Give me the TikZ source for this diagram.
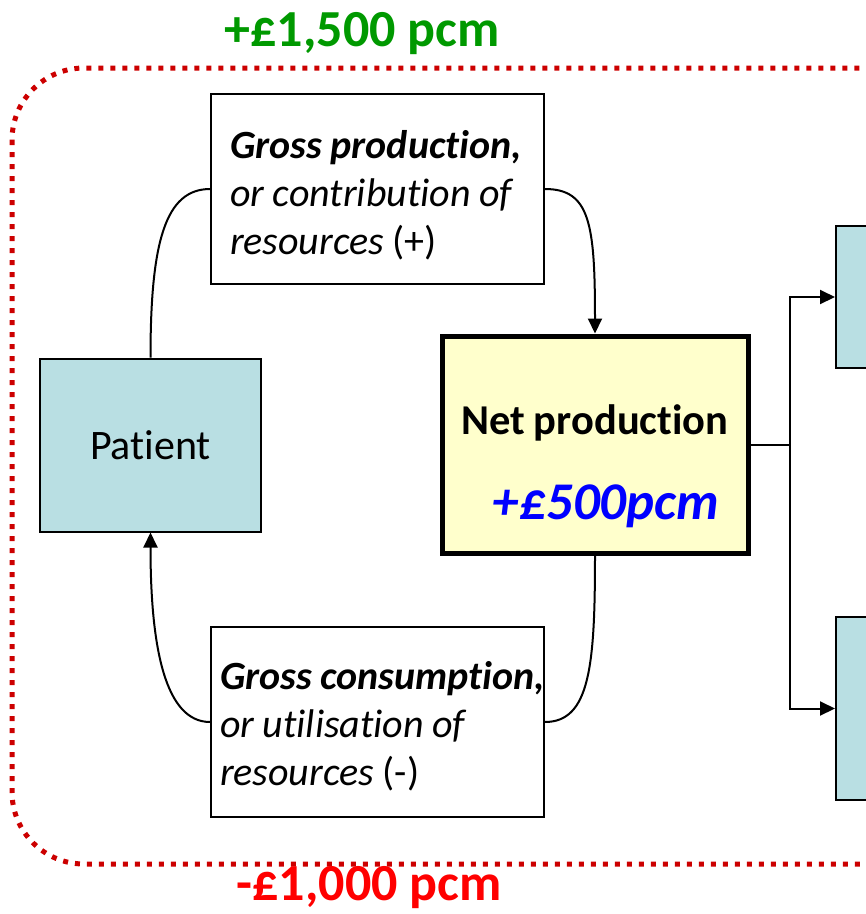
\documentclass[tikz,border=0pt]{standalone}
\usepackage{fontspec}
\setmainfont{Carlito}[Ligatures={NoCommon}]
\usetikzlibrary{arrows.meta}
\definecolor{boxblue}{RGB}{185,223,227}
\definecolor{boxyellow}{RGB}{255,255,204}
\definecolor{dotred}{RGB}{204,0,0}
\definecolor{txtgreen}{RGB}{0,153,0}
\definecolor{txtred}{RGB}{255,0,0}
\definecolor{txtblue}{RGB}{0,0,255}
\newcommand{\tightsp}{\spaceskip=8.5pt\relax}
\tikzset{
  bluebox/.style={draw=black, line width=2pt, fill=boxblue, inner sep=0pt},
  whitebox/.style={draw=black, line width=1.8pt, fill=white, align=left,
    minimum width=333pt, minimum height=190pt, inner ysep=0pt},
  netbox/.style={draw=black, line width=5pt, fill=boxyellow, inner sep=0pt,
    minimum width=306pt, minimum height=217pt},
  conn/.style={line width=2pt, draw=black},
  arr/.style={conn, -{Triangle[length=15pt,width=14pt]}},
  bigtxt/.style={font=\fontsize{40}{48}\selectfont},
  labtxt/.style={font=\fontsize{52}{60}\selectfont\bfseries, anchor=base},
}
\begin{document}
\begin{tikzpicture}[x=1pt,y=-1pt]
\useasboundingbox (0,0) rectangle (866,914);
\begin{scope}
\clip (0,0) rectangle (866,914);
% dotted boundary
\draw[dotred, line width=5pt, dash pattern=on 5pt off 7pt, rounded corners=72pt]
  (12,68) rectangle (940,864);
% right boxes (cut off)
\node[bluebox, minimum width=70pt, minimum height=142pt] (rt) at (871,297) {};
\node[bluebox, minimum width=70pt, minimum height=183pt] (rb) at (871,708.5) {};
\end{scope}
% labels
\node[labtxt, text=txtgreen] (top) at (362,46) {+£1,500 pcm};
\node[labtxt, text=txtred] (bot) at (369,900) {-£1,000 pcm};
% patient
\node[bluebox, minimum width=221pt, minimum height=173pt, font=\fontsize{42}{48}\selectfont] (pat) at (150.5,445) {Patient};
% gross production
\node[whitebox, bigtxt, inner xsep=19pt, text width=295pt] (gp) at (377.5,189)
  {\tightsp\rule{0pt}{40pt}\mbox{\textbf{\textit{Gross production,}}}\\ \mbox{\textit{or contribution of}}\\ \mbox{\textit{resources} (+)}};
% gross consumption
\node[whitebox, bigtxt, inner xsep=9pt, text width=315pt] (gc) at (377.5,722)
  {\tightsp\rule{0pt}{36pt}\mbox{\textbf{\textit{Gross consumption,}}}\\ \mbox{\textit{or utilisation of}}\\ \mbox{\textit{resources} (-)}};
% net production
\node[netbox] (np) at (595,444.5) {};
\node[font=\fontsize{42.5}{48}\selectfont\bfseries, anchor=base] (nptxt) at (595,434) {\tightsp Net production};
\node[font=\fontsize{53}{60}\selectfont\bfseries\itshape, text=txtblue, anchor=base] (npval) at (606,519) {+£500pcm};
% connectors
\draw[conn] (pat.north) .. controls +(0,-115) and +(-45,0) .. (gp.west);
\draw[arr] (gp.east) .. controls +(45,0) and +(0,-110) .. (np.north);
\draw[conn] (np.south) .. controls +(0,110) and +(45,0) .. (gc.east);
\draw[arr] (gc.west) .. controls +(-45,0) and +(0,115) .. (pat.south);
\draw[conn] (np.east) -- (790,444.5) coordinate (j);
\draw[arr] (j) |- (rt.west);
\draw[arr] (j) |- (rb.west);
\end{tikzpicture}
\end{document}
